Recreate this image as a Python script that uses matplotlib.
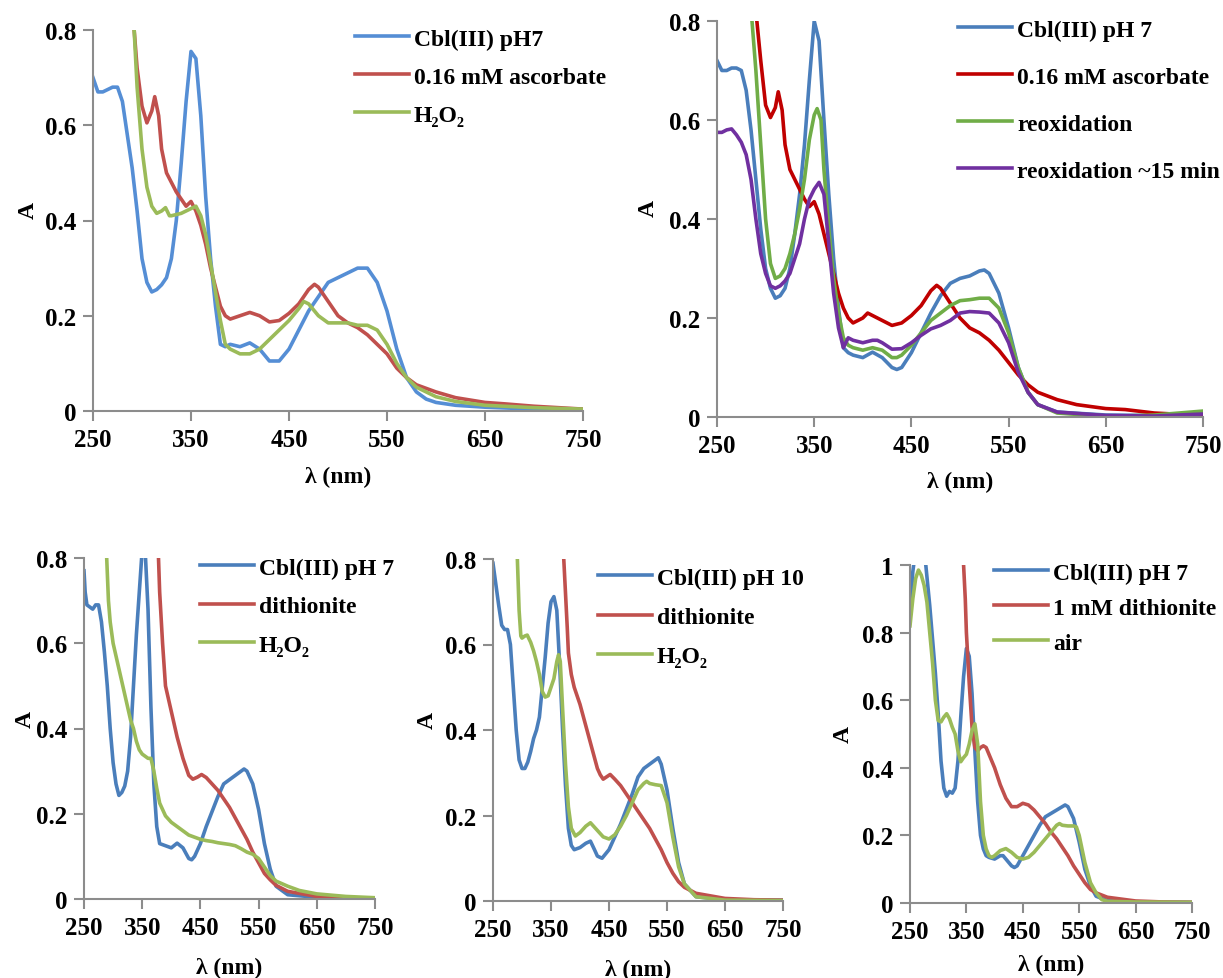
import matplotlib.pyplot as plt

plt.rcParams['font.family'] = 'Liberation Serif'
plt.rcParams['font.weight'] = 'bold'

# ---- panel 1 (top left) ----
p1_blue_wl = [250, 255, 260, 265, 270, 275, 280, 285, 290, 295, 300, 305, 310, 315, 320, 325, 330, 335, 340, 345,
              350, 355, 360, 365, 370, 375, 380, 385, 390, 400, 410, 420, 430, 440, 450, 460, 470, 480, 490, 500,
              510, 520, 530, 540, 550, 560, 570, 580, 590, 600, 620, 650, 700, 750]
p1_blue = [0.70, 0.67, 0.67, 0.675, 0.68, 0.68, 0.65, 0.58, 0.51, 0.42, 0.32, 0.27, 0.25, 0.255, 0.265, 0.28, 0.32,
           0.40, 0.52, 0.65, 0.755, 0.74, 0.62, 0.45, 0.32, 0.22, 0.14, 0.135, 0.14, 0.135, 0.143, 0.13, 0.105, 0.105,
           0.13, 0.17, 0.21, 0.24, 0.27, 0.28, 0.29, 0.30, 0.30, 0.27, 0.21, 0.13, 0.07, 0.04, 0.025, 0.018, 0.012,
           0.008, 0.004, 0.003]
p1_red_wl = [289, 292, 295, 300, 305, 310, 313, 317, 320, 325, 330, 335, 340, 345, 350, 355, 360, 365, 370, 375,
             380, 385, 390, 400, 410, 420, 430, 440, 450, 460, 470, 476, 480, 490, 500, 510, 520, 530, 540, 550,
             560, 570, 580, 600, 620, 650, 670, 700, 750]
p1_red = [0.90, 0.80, 0.72, 0.64, 0.605, 0.63, 0.66, 0.62, 0.55, 0.50, 0.48, 0.46, 0.445, 0.43, 0.44, 0.42, 0.39,
          0.35, 0.30, 0.26, 0.22, 0.20, 0.193, 0.20, 0.207, 0.20, 0.187, 0.19, 0.205, 0.225, 0.255, 0.266, 0.26, 0.23,
          0.20, 0.185, 0.175, 0.16, 0.14, 0.12, 0.09, 0.07, 0.055, 0.04, 0.028, 0.018, 0.015, 0.01, 0.004]
p1_green_wl = [289, 292, 295, 300, 305, 310, 315, 320, 324, 328, 330, 340, 350, 355, 360, 365, 370, 375, 380, 385,
               390, 400, 410, 420, 430, 440, 450, 460, 465, 470, 480, 490, 500, 510, 520, 530, 540, 550, 560, 570,
               580, 600, 620, 650, 700, 750]
p1_green = [0.92, 0.80, 0.68, 0.55, 0.47, 0.43, 0.415, 0.42, 0.427, 0.41, 0.41, 0.415, 0.425, 0.43, 0.41, 0.37,
            0.31, 0.25, 0.19, 0.14, 0.13, 0.12, 0.12, 0.13, 0.15, 0.17, 0.19, 0.215, 0.23, 0.225, 0.20, 0.185, 0.185,
            0.185, 0.18, 0.18, 0.17, 0.14, 0.10, 0.07, 0.05, 0.03, 0.02, 0.012, 0.007, 0.004]

# ---- panel 2 (top right) ----
p2_blue_wl = [250, 255, 260, 265, 270, 275, 280, 285, 290, 295, 300, 305, 310, 315, 320, 325, 330, 335, 340, 345,
              350, 355, 360, 365, 370, 375, 380, 385, 390, 400, 410, 420, 430, 435, 440, 450, 460, 470, 480, 490,
              500, 510, 520, 525, 530, 540, 550, 560, 570, 580, 600, 650, 700, 750]
p2_blue = [0.72, 0.70, 0.70, 0.705, 0.705, 0.70, 0.66, 0.58, 0.48, 0.38, 0.30, 0.26, 0.24, 0.245, 0.26, 0.30, 0.37,
           0.45, 0.55, 0.68, 0.80, 0.76, 0.60, 0.45, 0.32, 0.22, 0.14, 0.13, 0.125, 0.12, 0.131, 0.12, 0.10, 0.096,
           0.10, 0.13, 0.17, 0.21, 0.245, 0.27, 0.28, 0.285, 0.295, 0.297, 0.29, 0.25, 0.18, 0.10, 0.05, 0.025,
           0.01, 0.004, 0.003, 0.005]
p2_red_wl = [288, 291, 295, 300, 305, 310, 313, 317, 320, 325, 330, 335, 340, 345, 350, 355, 360, 365, 370, 375,
             380, 385, 390, 400, 405, 410, 420, 430, 440, 450, 460, 470, 476, 480, 490, 500, 510, 520, 530, 540,
             550, 560, 570, 580, 600, 620, 650, 670, 700, 750]
p2_red = [0.90, 0.80, 0.72, 0.63, 0.605, 0.625, 0.657, 0.62, 0.55, 0.50, 0.48, 0.46, 0.44, 0.425, 0.435, 0.41, 0.37,
          0.33, 0.29, 0.25, 0.22, 0.20, 0.19, 0.20, 0.21, 0.205, 0.195, 0.185, 0.19, 0.205, 0.225, 0.255, 0.266, 0.26,
          0.23, 0.20, 0.18, 0.17, 0.155, 0.135, 0.11, 0.085, 0.065, 0.05, 0.035, 0.025, 0.017, 0.015, 0.008, 0.003]
p2_green_wl = [283, 286, 290, 295, 300, 305, 310, 315, 320, 325, 330, 335, 340, 345, 350, 353, 357, 360, 365, 370,
               375, 380, 385, 390, 400, 410, 420, 430, 435, 440, 450, 460, 470, 480, 490, 500, 510, 520, 530, 540,
               550, 560, 570, 580, 600, 650, 700, 750]
p2_green = [0.92, 0.80, 0.70, 0.55, 0.40, 0.31, 0.28, 0.285, 0.30, 0.33, 0.37, 0.42, 0.48, 0.56, 0.61, 0.623, 0.60,
            0.50, 0.38, 0.28, 0.21, 0.16, 0.145, 0.14, 0.135, 0.14, 0.135, 0.12, 0.12, 0.125, 0.145, 0.17, 0.195,
            0.21, 0.225, 0.235, 0.237, 0.24, 0.24, 0.22, 0.17, 0.10, 0.05, 0.025, 0.008, 0.001, 0.004, 0.012]
p2_purple_wl = [250, 255, 260, 265, 270, 275, 280, 285, 290, 295, 300, 305, 310, 315, 320, 325, 330, 335, 340, 345,
                350, 355, 360, 365, 370, 375, 380, 385, 390, 400, 410, 415, 420, 430, 440, 450, 460, 470, 480, 490,
                500, 510, 520, 530, 540, 550, 560, 570, 580, 600, 650, 700, 750]
p2_purple = [0.575, 0.575, 0.58, 0.582, 0.57, 0.555, 0.53, 0.48, 0.40, 0.33, 0.29, 0.265, 0.26, 0.265, 0.275, 0.29,
             0.32, 0.35, 0.40, 0.44, 0.46, 0.474, 0.45, 0.35, 0.25, 0.18, 0.14, 0.16, 0.155, 0.15, 0.155, 0.155, 0.15,
             0.137, 0.138, 0.15, 0.165, 0.178, 0.185, 0.195, 0.21, 0.213, 0.212, 0.21, 0.19, 0.15, 0.09, 0.05, 0.025,
             0.01, 0.003, 0.002, 0.006]

# ---- panel 3 (bottom left) ----
p3_blue_wl = [250, 252, 255, 260, 265, 270, 275, 280, 285, 290, 295, 300, 305, 310, 315, 320, 325, 330, 335, 340,
              345, 350, 355, 360, 365, 370, 375, 380, 390, 400, 410, 420, 430, 435, 440, 450, 460, 470, 480, 490,
              500, 510, 520, 525, 530, 540, 550, 560, 570, 580, 600, 650, 750]
p3_blue = [0.77, 0.72, 0.69, 0.685, 0.68, 0.69, 0.69, 0.65, 0.58, 0.50, 0.40, 0.32, 0.27, 0.243, 0.25, 0.265, 0.30,
           0.38, 0.50, 0.62, 0.72, 0.82, 0.82, 0.68, 0.45, 0.27, 0.17, 0.13, 0.125, 0.12, 0.131, 0.12, 0.095, 0.092,
           0.10, 0.13, 0.17, 0.205, 0.24, 0.27, 0.28, 0.29, 0.30, 0.305, 0.30, 0.27, 0.21, 0.13, 0.07, 0.03, 0.01,
           0.004, 0.002]
p3_red_wl = [375, 378, 380, 385, 390, 400, 410, 420, 430, 437, 445, 452, 460, 470, 480, 490, 500, 510, 520, 530,
             540, 550, 560, 570, 580, 600, 650, 700, 750]
p3_red = [0.90, 0.80, 0.72, 0.60, 0.50, 0.44, 0.38, 0.33, 0.29, 0.281, 0.286, 0.292, 0.285, 0.27, 0.255, 0.235,
          0.215, 0.19, 0.165, 0.14, 0.11, 0.085, 0.06, 0.045, 0.032, 0.018, 0.006, 0.003, 0.002]
p3_green_wl = [287, 289, 292, 295, 300, 305, 310, 315, 320, 325, 330, 335, 340, 345, 350, 355, 360, 365, 370, 375,
               380, 385, 390, 400, 410, 420, 430, 440, 450, 460, 470, 480, 490, 500, 510, 520, 530, 540, 550, 560,
               570, 580, 600, 620, 650, 700, 750]
p3_green = [0.90, 0.80, 0.70, 0.65, 0.60, 0.57, 0.54, 0.51, 0.48, 0.45, 0.42, 0.40, 0.37, 0.35, 0.34, 0.335, 0.33,
            0.33, 0.30, 0.26, 0.225, 0.21, 0.195, 0.18, 0.17, 0.16, 0.15, 0.145, 0.14, 0.137, 0.135, 0.132, 0.13,
            0.128, 0.125, 0.118, 0.11, 0.105, 0.095, 0.075, 0.055, 0.042, 0.03, 0.02, 0.012, 0.006, 0.003]

# ---- panel 4 (bottom middle) ----
p4_blue_wl = [250, 255, 260, 265, 270, 275, 280, 285, 290, 295, 300, 305, 310, 315, 320, 325, 330, 335, 340, 345,
              350, 355, 360, 365, 370, 375, 380, 385, 390, 400, 410, 418, 425, 430, 438, 450, 460, 470, 480, 490,
              500, 510, 520, 530, 535, 540, 550, 560, 570, 580, 600, 650, 750]
p4_blue = [0.79, 0.74, 0.69, 0.645, 0.635, 0.635, 0.60, 0.50, 0.40, 0.33, 0.31, 0.31, 0.325, 0.35, 0.38, 0.40,
           0.43, 0.50, 0.57, 0.65, 0.70, 0.712, 0.68, 0.55, 0.40, 0.27, 0.17, 0.13, 0.12, 0.125, 0.135, 0.14, 0.12,
           0.105, 0.10, 0.12, 0.15, 0.18, 0.215, 0.25, 0.29, 0.31, 0.32, 0.33, 0.335, 0.32, 0.26, 0.17, 0.09, 0.04,
           0.01, 0.003, 0.002]
p4_red_wl = [370, 372, 375, 378, 380, 385, 390, 400, 410, 420, 430, 435, 440, 452, 460, 470, 480, 490, 500, 510,
             520, 530, 540, 550, 560, 570, 580, 600, 650, 700, 750]
p4_red = [0.90, 0.80, 0.72, 0.64, 0.58, 0.53, 0.50, 0.46, 0.41, 0.36, 0.31, 0.295, 0.285, 0.296, 0.285, 0.27, 0.25,
          0.23, 0.21, 0.19, 0.17, 0.145, 0.12, 0.09, 0.065, 0.045, 0.032, 0.018, 0.006, 0.003, 0.002]
p4_green_wl = [290, 292, 295, 298, 300, 305, 309, 315, 320, 325, 330, 335, 340, 345, 350, 355, 360, 363, 366, 370,
               375, 380, 385, 392, 400, 410, 418, 430, 440, 450, 460, 470, 480, 490, 500, 510, 515, 520, 530, 540,
               550, 560, 570, 580, 600, 650, 750]
p4_green = [0.90, 0.80, 0.68, 0.62, 0.615, 0.62, 0.622, 0.605, 0.585, 0.56, 0.53, 0.49, 0.477, 0.48, 0.50, 0.52,
            0.56, 0.576, 0.56, 0.45, 0.32, 0.22, 0.17, 0.152, 0.16, 0.175, 0.183, 0.165, 0.15, 0.145, 0.155, 0.175,
            0.20, 0.23, 0.26, 0.275, 0.28, 0.275, 0.272, 0.27, 0.23, 0.15, 0.08, 0.04, 0.01, 0.002, 0.001]

# ---- panel 5 (bottom right) ----
p5_blue_wl = [250, 255, 258, 265, 272, 278, 285, 290, 295, 300, 305, 310, 315, 320, 325, 330, 335, 340, 345, 350,
              355, 360, 365, 370, 375, 380, 385, 390, 400, 410, 415, 420, 430, 435, 440, 450, 460, 470, 480, 490,
              500, 510, 520, 525, 530, 540, 550, 560, 570, 580, 600, 650, 750]
p5_blue = [0.85, 0.98, 1.02, 1.08, 1.05, 1.0, 0.88, 0.78, 0.68, 0.56, 0.42, 0.34, 0.316, 0.33, 0.325, 0.34, 0.42,
           0.55, 0.67, 0.753, 0.73, 0.62, 0.45, 0.30, 0.20, 0.16, 0.14, 0.135, 0.13, 0.14, 0.14, 0.13, 0.11, 0.105,
           0.11, 0.14, 0.17, 0.20, 0.23, 0.255, 0.265, 0.275, 0.285, 0.29, 0.285, 0.25, 0.18, 0.10, 0.05, 0.02,
           0.007, 0.003, 0.002]
p5_red_wl = [343, 345, 348, 350, 355, 360, 365, 370, 375, 380, 385, 390, 400, 410, 420, 430, 440, 450, 460, 470,
             480, 490, 500, 510, 520, 530, 540, 550, 560, 570, 580, 600, 650, 700, 750]
p5_red = [1.10, 1.0, 0.90, 0.80, 0.65, 0.52, 0.46, 0.45, 0.46, 0.465, 0.46, 0.44, 0.40, 0.35, 0.31, 0.285, 0.285,
          0.295, 0.29, 0.275, 0.255, 0.235, 0.21, 0.19, 0.165, 0.14, 0.11, 0.085, 0.06, 0.04, 0.03, 0.017, 0.006,
          0.003, 0.002]
p5_green_wl = [250, 255, 260, 265, 270, 275, 280, 285, 290, 295, 300, 305, 310, 315, 320, 325, 330, 335, 340, 345,
               350, 355, 360, 365, 370, 375, 380, 385, 390, 395, 400, 410, 420, 430, 440, 450, 460, 470, 480, 490,
               500, 510, 515, 520, 530, 540, 545, 550, 560, 570, 580, 590, 600, 650, 750]
p5_green = [0.82, 0.90, 0.96, 0.985, 0.97, 0.94, 0.89, 0.80, 0.71, 0.60, 0.54, 0.536, 0.55, 0.56, 0.545, 0.52, 0.50,
            0.45, 0.418, 0.43, 0.44, 0.47, 0.51, 0.53, 0.47, 0.30, 0.20, 0.16, 0.14, 0.135, 0.14, 0.155, 0.161, 0.15,
            0.135, 0.13, 0.135, 0.15, 0.17, 0.19, 0.21, 0.23, 0.235, 0.23, 0.228, 0.228, 0.225, 0.20, 0.12, 0.06,
            0.03, 0.01, 0.005, 0.003, 0.002]

xticks = [250, 350, 450, 550, 650, 750]

fig = plt.figure(figsize=(12.23, 9.79), dpi=100)


def px_axes(x0, x1, ytop, ybot):
    # axes rectangle from pixel coordinates of the reference
    W, H = 1223, 979
    return fig.add_axes([x0 / W, 1 - ybot / H, (x1 - x0) / W, (ybot - ytop) / H])


def style(ax, ymax, yticks, ytlabels, xlab_y, ylab_x, ylab_y=0.53):
    ax.set_xlim(250, 750)
    ax.set_ylim(0, ymax)
    ax.set_xticks(xticks)
    ax.set_yticks(yticks)
    ax.set_yticklabels(ytlabels)
    for s in ['top', 'right']:
        ax.spines[s].set_visible(False)
    for s in ['left', 'bottom']:
        ax.spines[s].set_color('#8c8c8c')
        ax.spines[s].set_linewidth(1.5)
    ax.tick_params(direction='out', length=7, width=1.5, color='#8c8c8c', labelsize=18, pad=5)
    for t in ax.get_xticklabels() + ax.get_yticklabels():
        t.set_fontweight('bold')
    ax.set_xlabel('λ (nm)', fontsize=17, fontweight='bold')
    ax.xaxis.set_label_coords(0.5, xlab_y)
    ax.set_ylabel('A', fontsize=17, fontweight='bold')
    ax.yaxis.set_label_coords(ylab_x, ylab_y)


def leg(ax, xpx, ypx, spacing):
    ax.legend(loc='upper left', bbox_to_anchor=(xpx / 1223, 1 - ypx / 979), bbox_transform=fig.transFigure,
              frameon=False, handlelength=2.3, handletextpad=0.2, labelspacing=spacing,
              borderpad=0, borderaxespad=0, prop={'weight': 'bold', 'size': 17})


lw = 2.6
yt8 = [0, 0.2, 0.4, 0.6, 0.8]
yl8 = ['0', '0.2', '0.4', '0.6', '0.8']

# panel 1
ax1 = px_axes(93, 583, 31, 412)
ax1.plot(p1_blue_wl, p1_blue, color='#558ED5', lw=lw, label='Cbl(III) pH7')
ax1.plot(p1_red_wl, p1_red, color='#C0504D', lw=lw, label='0.16 mM ascorbate')
ax1.plot(p1_green_wl, p1_green, color='#9BBB59', lw=lw, label='H₂O₂')
style(ax1, 0.8, yt8, yl8, -0.145, -0.11)
leg(ax1, 355, 29, 0.7)

# panel 2
ax2 = px_axes(717, 1203, 22, 418)
ax2.plot(p2_blue_wl, p2_blue, color='#4A7EBB', lw=lw, label='Cbl(III) pH 7')
ax2.plot(p2_red_wl, p2_red, color='#C00000', lw=lw, label='0.16 mM ascorbate')
ax2.plot(p2_green_wl, p2_green, color='#70AD47', lw=lw, label='reoxidation')
ax2.plot(p2_purple_wl, p2_purple, color='#7030A0', lw=lw, label='reoxidation ~15 min')
style(ax2, 0.8, yt8, yl8, -0.135, -0.12)
leg(ax2, 958, 20, 1.08)

# panel 3
ax3 = px_axes(84, 375, 559, 900)
ax3.plot(p3_blue_wl, p3_blue, color='#4A7EBB', lw=lw, label='Cbl(III) pH 7')
ax3.plot(p3_red_wl, p3_red, color='#C0504D', lw=lw, label='dithionite')
ax3.plot(p3_green_wl, p3_green, color='#9BBB59', lw=lw, label='H₂O₂')
style(ax3, 0.8, yt8, yl8, -0.17, -0.165)
leg(ax3, 200, 558, 0.72)

# panel 4
ax4 = px_axes(493, 783, 560, 902)
ax4.plot(p4_blue_wl, p4_blue, color='#4A7EBB', lw=lw, label='Cbl(III) pH 10')
ax4.plot(p4_red_wl, p4_red, color='#C0504D', lw=lw, label='dithionite')
ax4.plot(p4_green_wl, p4_green, color='#9BBB59', lw=lw, label='H₂O₂')
style(ax4, 0.8, yt8, yl8, -0.17, -0.19)
leg(ax4, 598, 568, 0.76)

# panel 5
ax5 = px_axes(910, 1192, 566, 904)
ax5.plot(p5_blue_wl, p5_blue, color='#4A7EBB', lw=lw, label='Cbl(III) pH 7')
ax5.plot(p5_red_wl, p5_red, color='#C0504D', lw=lw, label='1 mM dithionite')
ax5.plot(p5_green_wl, p5_green, color='#9BBB59', lw=lw, label='air')
style(ax5, 1.0, [0, 0.2, 0.4, 0.6, 0.8, 1.0], ['0', '0.2', '0.4', '0.6', '0.8', '1'], -0.15, -0.2, 0.5)
leg(ax5, 994, 563, 0.57)

fig.savefig('out.png', dpi=100)
